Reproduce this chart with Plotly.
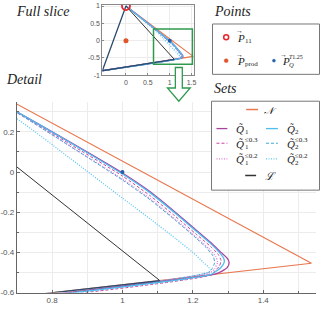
import plotly.graph_objects as go

# ---------------- data ----------------
apex = [0.0, 1.0]
left_vertex = [-0.54, -0.868]
N_vertex = [1.537, -0.454]
L_vertex = [1.106, -0.54]

# set boundary curves (from apex down to the base)
q1_x = [0.0, 0.7, 0.85, 1.0, 1.08, 1.15, 1.21, 1.25, 1.28, 1.298, 1.303, 1.298, 1.283, 1.265]
q1_y = [1.0, 0.30, 0.15, -0.005, -0.10, -0.20, -0.29, -0.35, -0.40, -0.43, -0.45, -0.475, -0.493, -0.507]
q2_x = [0.0, 0.7, 0.85, 1.0, 1.08, 1.15, 1.21, 1.25, 1.275, 1.288, 1.289, 1.28, 1.265, 1.25]
q2_y = [1.0, 0.30, 0.148, -0.01, -0.105, -0.205, -0.295, -0.355, -0.40, -0.43, -0.45, -0.475, -0.495, -0.511]
q1_03_x = [0.0, 0.7, 0.85, 1.0, 1.08, 1.15, 1.21, 1.25, 1.272, 1.28, 1.275, 1.262, 1.255]
q1_03_y = [1.0, 0.298, 0.14, -0.02, -0.12, -0.22, -0.31, -0.37, -0.41, -0.44, -0.47, -0.492, -0.51]
q2_03_x = [0.0, 0.7, 0.85, 1.0, 1.08, 1.15, 1.21, 1.24, 1.258, 1.262, 1.255, 1.245]
q2_03_y = [1.0, 0.295, 0.13, -0.04, -0.14, -0.24, -0.33, -0.38, -0.42, -0.45, -0.48, -0.50]
q1_02_x = [0.0, 0.7, 0.85, 1.0, 1.08, 1.15, 1.21, 1.245, 1.265, 1.27, 1.262, 1.25]
q1_02_y = [1.0, 0.297, 0.13, -0.035, -0.135, -0.235, -0.325, -0.38, -0.42, -0.45, -0.48, -0.50]
q2_02_x = [0.0, 0.7, 0.85, 1.0, 1.08, 1.15, 1.2, 1.23, 1.25]
q2_02_y = [1.0, 0.265, 0.07, -0.13, -0.235, -0.33, -0.40, -0.45, -0.49]

P11 = [0.0, 1.0]
Pprod = [0.0, 0.0]
PQ = [1.0, 0.0]

main_xticks = [0.8, 1.0, 1.2, 1.4]
main_xticktext = ["0.8", "1", "1.2", "1.4"]
main_yticks = [-0.6, -0.4, -0.2, 0.0, 0.2]
main_yticktext = ["-0.6", "-0.4", "-0.2", "0", "0.2"]
inset_xticks = [0, 0.5, 1, 1.5]
inset_xticktext = ["0", "0.5", "1", "1.5"]
inset_yticks = [-1, -0.5, 0, 0.5, 1]
inset_yticktext = ["-1", "-0.5", "0", "0.5", "1"]
zoom_box = [0.63, 1.52, -0.68, 0.34]

# ---------------- styles ----------------
C_N = "#E8784F"
C_Q1 = "#A8449E"
C_Q2 = "#4DBEEE"
C_Q1_03 = "#C8479F"
C_Q2_03 = "#3FA8E0"
C_Q1_02 = "#E07BD0"
C_Q2_02 = "#5CC8F2"
C_L = "#333333"
C_EDGE = "#2B4C6F"
GREEN = "#2E9A4E"
SERIF = "Liberation Serif"
SANS = "Liberation Sans"
DASH = "3px,2px"
DOT = "1px,1.5px"

fig = go.Figure()


def add_sets(xa, ya):
    kw = dict(xaxis=xa, yaxis=ya, showlegend=False, hoverinfo="skip", mode="lines")
    fig.add_trace(go.Scatter(x=[apex[0], N_vertex[0], left_vertex[0]],
                             y=[apex[1], N_vertex[1], left_vertex[1]],
                             line=dict(color=C_N, width=1.2), **kw))
    for xs, ys, col, dash, w in [
        (q2_02_x, q2_02_y, C_Q2_02, DOT, 1.3),
        (q1_02_x, q1_02_y, C_Q1_02, DOT, 1.3),
        (q2_03_x, q2_03_y, C_Q2_03, DASH, 1.0),
        (q1_03_x, q1_03_y, C_Q1_03, DASH, 1.0),
        (q1_x, q1_y, C_Q1, "solid", 1.3),
        (q2_x, q2_y, C_Q2, "solid", 1.3),
    ]:
        fig.add_trace(go.Scatter(x=xs + [left_vertex[0]], y=ys + [left_vertex[1]],
                                 line=dict(color=col, width=w, dash=dash, shape="spline", smoothing=0.6), **kw))
    fig.add_trace(go.Scatter(x=[apex[0], L_vertex[0]], y=[apex[1], L_vertex[1]],
                             line=dict(color=C_L, width=1.0), **kw))
    fig.add_trace(go.Scatter(x=[L_vertex[0], left_vertex[0], apex[0]],
                             y=[L_vertex[1], left_vertex[1], apex[1]],
                             line=dict(color=C_EDGE, width=1.3), **kw))


add_sets("x", "y")
add_sets("x2", "y2")

fig.add_trace(go.Scatter(x=[PQ[0]], y=[PQ[1]], xaxis="x", yaxis="y", mode="markers",
                         marker=dict(color="#1F5FA8", size=4), showlegend=False, hoverinfo="skip"))
fig.add_trace(go.Scatter(x=[P11[0]], y=[P11[1]], xaxis="x2", yaxis="y2", mode="markers",
                         marker=dict(symbol="circle-open", color="#E8262C", size=8, line=dict(width=1.8)),
                         showlegend=False, hoverinfo="skip"))
fig.add_trace(go.Scatter(x=[Pprod[0]], y=[Pprod[1]], xaxis="x2", yaxis="y2", mode="markers",
                         marker=dict(symbol="circle", color="#E0552A", size=5), showlegend=False, hoverinfo="skip"))
fig.add_trace(go.Scatter(x=[PQ[0]], y=[PQ[1]], xaxis="x2", yaxis="y2", mode="markers",
                         marker=dict(color="#1F5FA8", size=4), showlegend=False, hoverinfo="skip"))

# ---------------- legends / decorations on a pixel overlay axis ----------------
shapes = [
    dict(type="rect", xref="x2", yref="y2", x0=zoom_box[0], x1=zoom_box[1], y0=zoom_box[2], y1=zoom_box[3],
         line=dict(color=GREEN, width=1.5)),
    dict(type="path", xref="x3", yref="y3",
         path="M 176,67 L 183,67 L 183,88 L 191,88 L 179.5,101.5 L 168,88 L 176,88 Z",
         line=dict(color=GREEN, width=1.3), fillcolor="white", layer="above"),
    dict(type="rect", xref="x3", yref="y3", x0=213.5, x1=321.5, y0=22.5, y1=74,
         line=dict(color="#777", width=1), fillcolor="white", layer="above"),
    dict(type="rect", xref="x3", yref="y3", x0=212.5, x1=321.5, y0=101.5, y1=192.5,
         line=dict(color="#777", width=1), fillcolor="white", layer="above"),
]
shapes += [
    dict(type="circle", xref="x3", yref="y3", x0=224.8, x1=229.8, y0=33.5, y1=38.5,
         line=dict(color="#E8262C", width=1.5), layer="above"),
    dict(type="circle", xref="x3", yref="y3", x0=225.3, x1=229.3, y0=58, y1=62,
         line=dict(color="#E0552A", width=0.5), fillcolor="#E0552A", layer="above"),
    dict(type="circle", xref="x3", yref="y3", x0=274, x1=277, y0=58.5, y1=61.5,
         line=dict(color="#1F5FA8", width=0.5), fillcolor="#1F5FA8", layer="above"),
]
for xs, y, col, dash, w in [
    ([247.5, 259.5], 110, C_N, "solid", 1.5),
    ([217.5, 228.5], 129.5, C_Q1, "solid", 1.3),
    ([267.5, 279.5], 129.5, C_Q2, "solid", 1.3),
    ([217.5, 228.5], 144.5, C_Q1_03, DASH, 1.0),
    ([267.5, 279.5], 144.5, C_Q2_03, DASH, 1.0),
    ([217.5, 228.5], 160.5, C_Q1_02, DOT, 1.3),
    ([267.5, 279.5], 160.5, C_Q2_02, DOT, 1.3),
    ([246.5, 257.5], 177.5, C_L, "solid", 1.5),
]:
    shapes.append(dict(type="line", xref="x3", yref="y3", x0=xs[0], x1=xs[1], y0=y, y1=y,
                       line=dict(color=col, width=w, dash=dash), layer="above"))

ann = []
def txt(x, y, s, size=10, anchor="left", family=SERIF, color="#222"):
    ann.append(dict(xref="x3", yref="y3", x=x, y=y, text=s, showarrow=False, xanchor=anchor,
                    yanchor="middle", font=dict(family=family, size=size, color=color)))

txt(13, 10, "<i>Full slice</i>", 14)
txt(213, 10, "<i>Points</i>", 14)
txt(3, 79, "<i>Detail</i>", 14)
txt(213, 88, "<i>Sets</i>", 14)

def vecP(x, y):
    txt(x, y, "<i>P</i>", 11)
    txt(x + 3.8, y - 6.5, "→", 7, anchor="center")

vecP(236.5, 36.5)
txt(244.5, 39.5, "11", 7)
vecP(236.5, 60.5)
txt(244.5, 63.5, "prod", 7)
vecP(281.5, 60.5)
txt(289, 64, "<i>Q</i>", 6.5)
txt(289, 56.5, "<i>T</i>1.25", 6)

txt(263, 110.5, "<i>𝒩</i>", 10)
def qt(x, y, sub, sup=None):
    txt(x, y, "<i>Q̃</i>", 11)
    txt(x + 8.5, y + 3.5, sub, 7)
    if sup:
        txt(x + 8.5, y - 3.5, sup, 7)

qt(235.5, 129.5, "1")
qt(286.5, 129.5, "2")
qt(235.5, 145, "1", "≤0.3")
qt(286.5, 145, "2", "≤0.3")
qt(235.5, 161, "1", "≤0.2")
qt(286.5, 161, "2", "≤0.2")
txt(264, 178, "<i>ℒ</i>", 11)

GRID = "#ECECEC"
AX = "#666666"
tickfont = dict(family=SANS, size=8, color="#555")

fig.update_layout(
    width=322, height=310, margin=dict(l=0, r=0, t=0, b=0),
    paper_bgcolor="white", plot_bgcolor="rgba(0,0,0,0)",
    shapes=shapes, annotations=ann,
    xaxis=dict(domain=[16 / 322, 318 / 322], range=[0.7, 1.55], tickvals=main_xticks, ticktext=main_xticktext,
               showgrid=True, gridcolor=GRID, zeroline=False, showline=True, linecolor=AX, linewidth=1,
               ticks="inside", ticklen=3, tickcolor=AX, tickfont=tickfont,
               minor=dict(dtick=0.1, tick0=0.7, showgrid=True, gridcolor=GRID, ticks="inside", ticklen=2, tickcolor=AX)),
    yaxis=dict(domain=[1 - 297.3 / 310, 1 - 102 / 310], range=[-0.6, 0.35], tickvals=main_yticks,
               ticktext=main_yticktext, showgrid=True, gridcolor=GRID, zeroline=False, showline=True,
               linecolor=AX, linewidth=1, ticks="inside", ticklen=3, tickcolor=AX, tickfont=tickfont,
               minor=dict(dtick=0.1, tick0=-0.6, showgrid=True, gridcolor=GRID, ticks="inside", ticklen=2, tickcolor=AX)),
    xaxis2=dict(domain=[102.3 / 322, 195 / 322], range=[-0.54, 1.56], tickvals=inset_xticks,
                ticktext=inset_xticktext, anchor="y2", showgrid=True, gridcolor=GRID, zeroline=False,
                showline=True, mirror=True, linecolor="#888", linewidth=1, ticks="inside", ticklen=2,
                tickcolor="#888", tickfont=dict(family=SANS, size=7, color="#555")),
    yaxis2=dict(domain=[1 - 75 / 310, 1 - 2.7 / 310], range=[-1, 1.04], tickvals=inset_yticks,
                ticktext=inset_yticktext, anchor="x2", showgrid=True, gridcolor=GRID, zeroline=False,
                showline=True, mirror=True, linecolor="#888", linewidth=1, ticks="inside", ticklen=2,
                tickcolor="#888", tickfont=dict(family=SANS, size=7, color="#555")),
    xaxis3=dict(domain=[0, 1], range=[0, 322], visible=False, anchor="y3", fixedrange=True),
    yaxis3=dict(domain=[0, 1], range=[310, 0], visible=False, anchor="x3", fixedrange=True),
)

fig.write_html("out.html", config={"displayModeBar": False},
               post_script="document.body.style.margin='0';document.body.style.overflow='hidden';")
